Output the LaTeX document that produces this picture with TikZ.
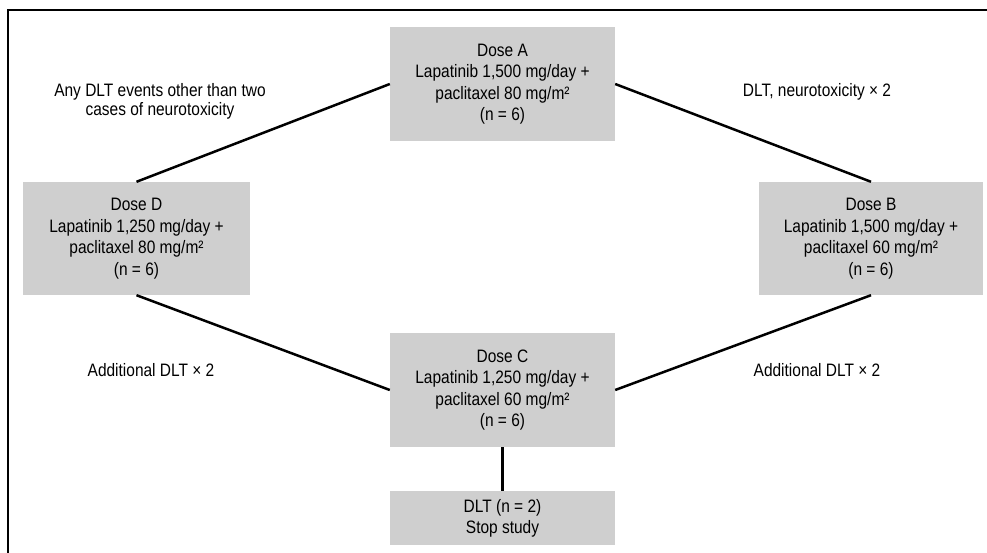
\documentclass[tikz,border=0pt]{standalone}
\usepackage{fontspec}
\setmainfont[FakeStretch=0.86]{Liberation Sans}
\usepackage{xcolor}
\usepackage{tikz}
\usetikzlibrary{positioning}

\definecolor{boxgray}{HTML}{CFCFCF}

\begin{document}
\begin{tikzpicture}[
    x=1pt, y=-1pt,
    dosebox/.style={rectangle, fill=boxgray, minimum width=225pt,
                    minimum height=114pt, align=center, inner sep=0pt,
                    font=\fontsize{18}{21.5}\selectfont},
    note/.style={align=center, inner sep=0pt,
                 font=\fontsize{18}{19}\selectfont},
    link/.style={line width=2.5pt},
]
    \useasboundingbox (0,0) rectangle (987,553);

    % Frame (top and left only)
    \draw[line width=2pt] (8,553) -- (8,10) -- (987,10);

    % Dose A
    \node[dosebox] (doseA) at (502.5,84) {Dose A\\Lapatinib 1,500 mg/day +\\paclitaxel 80 mg/m²\\(n = 6)};

    % Dose D
    \node[dosebox, minimum width=227pt, minimum height=113pt] (doseD) at (136.5,238.5) {Dose D\\Lapatinib 1,250 mg/day +\\paclitaxel 80 mg/m²\\(n = 6)};

    % Dose B
    \node[dosebox, minimum width=224pt, minimum height=113pt] (doseB) at (871,238.5) {Dose B\\Lapatinib 1,500 mg/day +\\paclitaxel 60 mg/m²\\(n = 6)};

    % Dose C
    \node[dosebox] (doseC) at (502.5,390) {Dose C\\Lapatinib 1,250 mg/day +\\paclitaxel 60 mg/m²\\(n = 6)};

    % Stop
    \node[dosebox, minimum height=54pt, below=44pt of doseC] (stop) {DLT (n = 2)\\Stop study};

    % Labels
    \node[note] (anyDLT) at (160,101) {Any DLT events other than two\\cases of neurotoxicity};
    \node[note] (neuro) at (817,92) {DLT, neurotoxicity × 2};
    \node[note] (addLeft) at (151,370) {Additional DLT × 2};
    \node[note] (addRight) at (817,370) {Additional DLT × 2};

    % Lines
    \draw[link] (doseA.west) -- (doseD.north);
    \draw[link] (doseA.east) -- (doseB.north);
    \draw[link] (doseD.south) -- (doseC.west);
    \draw[link] (doseB.south) -- (doseC.east);
    \draw[link] (doseC.south) -- (stop.north);
\end{tikzpicture}
\end{document}
